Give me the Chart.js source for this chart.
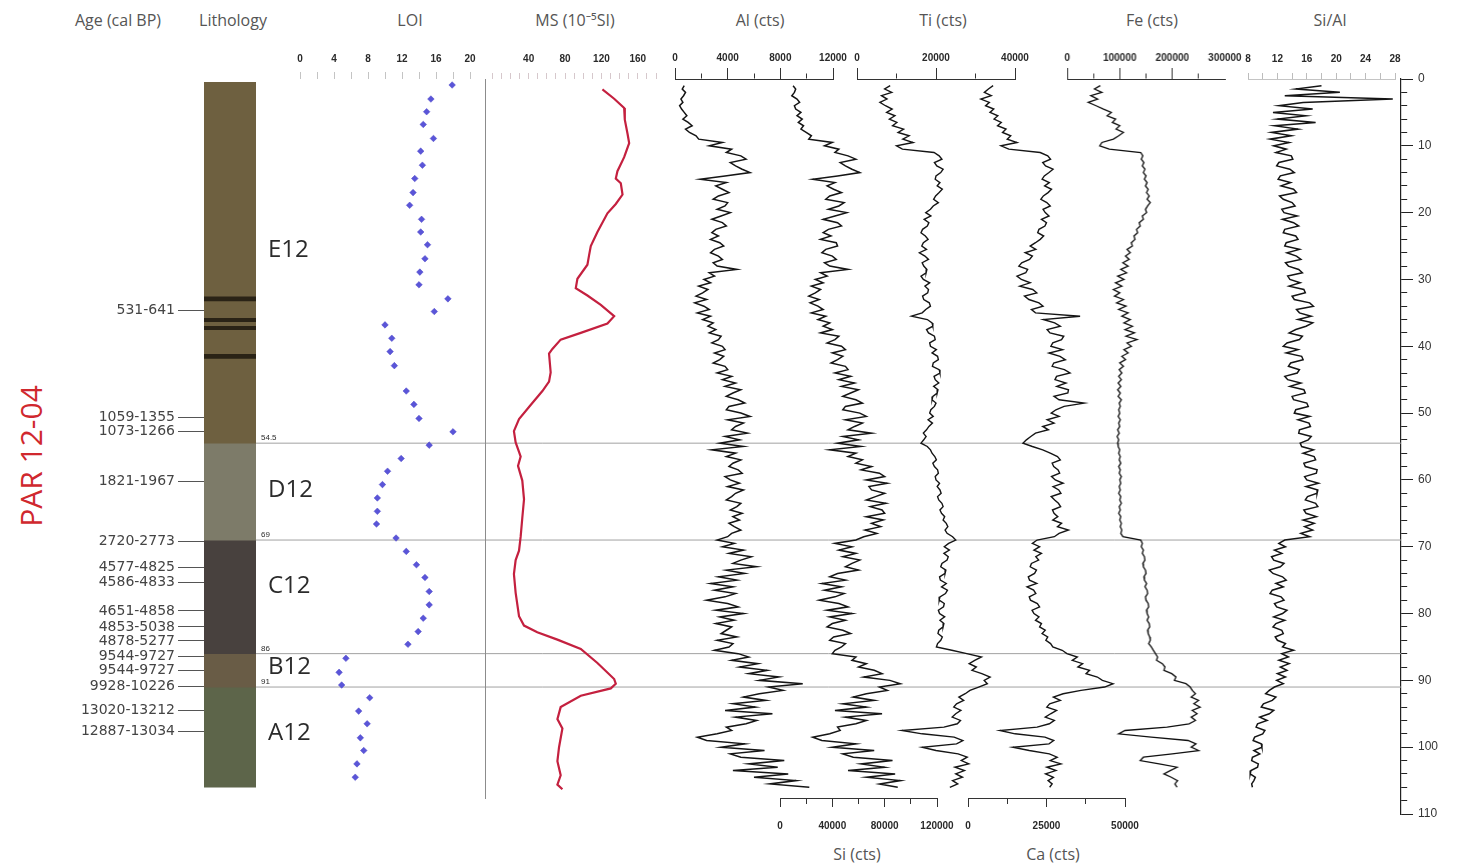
<!DOCTYPE html>
<html><head><meta charset="utf-8">
<script src="https://cdn.jsdelivr.net/npm/chart.js@4.4.1/dist/chart.umd.min.js"></script>
<style>
html,body{margin:0;padding:0;background:#fff;}
#wrap{position:relative;width:1461px;height:866px;overflow:hidden;background:#fff;}
canvas{position:absolute;}
.hdr{position:absolute;font-family:'Open Sans','Noto Sans',sans-serif;font-size:16px;color:#555;transform:translateX(-50%);white-space:nowrap;line-height:22px;}
#title{position:absolute;left:30px;top:456px;transform:translate(-50%,-50%) rotate(-90deg);font-family:'Open Sans','Noto Sans',sans-serif;font-size:30px;color:#d0282e;white-space:nowrap;}
</style></head><body>
<div id="wrap">
  <div class="hdr" style="left:118px;top:9px">Age (cal BP)</div>
  <div class="hdr" style="left:233px;top:9px">Lithology</div>
  <div class="hdr" style="left:410px;top:9px">LOI</div>
  <div class="hdr" style="left:575px;top:9px">MS (10⁻⁵SI)</div>
  <div class="hdr" style="left:760px;top:9px">Al (cts)</div>
  <div class="hdr" style="left:943px;top:9px">Ti (cts)</div>
  <div class="hdr" style="left:1152px;top:9px">Fe (cts)</div>
  <div class="hdr" style="left:1330px;top:9px">Si/Al</div>
  <div class="hdr" style="left:857px;top:843px">Si (cts)</div>
  <div class="hdr" style="left:1053px;top:843px">Ca (cts)</div>
  <div id="title">PAR 12-04</div>
</div>
<script>
// ---------------- DATA ----------------
// XRF scan sampling grid: 1.0 cm to 106.0 cm every 0.5 cm (211 samples)
const DEPTH_START = 1.0, DEPTH_STEP = 0.5, N_XRF = 211;
const xrfDepth = Array.from({length: N_XRF}, (_, i) => DEPTH_START + i * DEPTH_STEP);

const alCts = [
700,550,800,650,450,600,350,500,700,900,
600,1000,1300,800,1100,1600,1800,3600,2600,4300,
3900,5000,5400,4200,4600,5100,5700,3800,1900,3900,
3100,3600,4100,3300,2900,4000,3800,3200,4200,3500,
2800,3600,3900,3100,2800,3300,2700,3400,3700,3000,
2700,3300,3600,2900,3200,4700,2600,3000,2200,2700,
1800,2500,2100,1600,2400,1500,2200,2600,1700,2700,
2100,2900,2500,3100,2600,3500,3300,2800,3600,3800,
3000,3700,3400,2900,3800,4000,3200,4300,3600,4600,
3800,5000,4400,3900,4800,5300,4100,3900,5000,5700,
4000,5200,4600,4300,5500,3800,4900,3400,5200,2800,
4600,3900,5000,4400,4100,4800,5100,3800,4200,4900,
4000,5200,4600,4300,3900,5000,4700,4200,5100,4400,
4900,4100,4500,5000,4300,4000,3200,4500,3600,5200,
4100,5800,5000,4400,6200,3900,5300,3300,4700,2700,
4400,3000,4600,3800,2400,4000,4800,3100,5200,3400,
4500,3100,4300,3900,3500,4700,3200,4400,4100,3000,
4800,5600,4300,6300,4900,7000,5600,7900,6400,9700,
7100,8200,6400,5200,6900,4400,6100,3800,7400,4600,
6200,5400,3900,4300,3200,1700,2400,5300,3500,6800,
4200,5000,8300,5600,7800,4400,8600,6000,9200,7200,
10200];

const siCts = [
10000,12000,11000,9000,13000,15000,11000,12000,16000,13000,
17000,14000,18000,16000,20000,24000,22000,40000,34000,45000,
42000,52000,58000,46000,50000,55000,61000,44000,25000,42000,
36000,41000,47000,38000,35000,49000,45000,37000,51000,42000,
33000,44000,47000,37000,33000,39000,31000,43000,44000,35000,
32000,40000,43000,34000,38000,52000,31000,36000,27000,33000,
24000,31000,27000,22000,30000,23000,29000,33000,24000,35000,
29000,38000,33000,40000,31000,45000,42000,36000,47000,50000,
40000,48000,44000,39000,50000,52000,42000,54000,45000,57000,
47000,60000,54000,48000,58000,63000,50000,48000,61000,66000,
50000,63000,57000,52000,70000,48000,60000,44000,62000,38000,
58000,52000,63000,58000,70000,62000,76000,80000,66000,82000,
68000,70000,80000,73000,66000,81000,69000,78000,80000,66000,
79000,70000,77000,65000,74000,64000,58000,42000,55000,45000,
58000,48000,61000,55000,50000,60000,44000,38000,50000,32000,
47000,34000,49000,42000,30000,45000,52000,36000,55000,38000,
50000,40000,36000,48000,54000,41000,38000,50000,47000,42000,
40000,58000,55000,66000,60000,72000,78000,64000,84000,92000,
76000,82000,66000,56000,72000,48000,66000,42000,78000,50000,
66000,58000,44000,46000,38000,25000,32000,58000,40000,72000,
48000,56000,86000,62000,80000,52000,88000,66000,92000,76000,
90000];

const tiCts = [
8400,7000,8800,6200,7600,5800,7200,8900,7500,9600,
8200,10100,9000,11800,10400,13200,11600,14200,10000,11500,
19500,20800,21500,19600,20200,21800,21200,20000,19800,21000,
20300,21600,20800,19900,19400,20600,19300,18600,17400,18700,
17000,18200,17800,16600,16200,17300,18000,16800,16400,17600,
15800,17200,18100,16500,16900,17700,17500,16200,16800,18400,
17200,18100,17900,16600,16900,18300,18600,17400,16500,13800,
17800,19000,19200,17600,18100,19600,19800,18400,18600,20100,
19000,20400,20600,19300,19100,20800,21000,19500,19800,20700,
19400,20500,20300,19200,19000,20000,19600,18700,18400,19300,
18000,19100,18200,17600,16800,17500,16900,16200,17800,18600,
19000,19700,20100,19200,19600,20400,20600,19800,20000,20900,
20300,21000,21300,20400,20700,21500,21800,21000,21400,22200,
21800,22600,23000,22300,22800,24200,25000,23200,22100,23400,
22000,23100,22800,21500,21200,22500,22300,20900,21100,22600,
21400,22900,22400,21000,20800,22100,21900,20600,20900,22200,
21000,22000,21800,20700,20500,21600,21200,20400,20100,24000,
27800,31500,29800,28400,30200,29100,31600,33700,32200,33000,
30800,28600,27400,25800,27000,25200,24500,26300,25000,24100,
26200,25400,22000,11400,16500,24600,26800,25200,16500,20000,
25600,27900,26400,28300,24800,27200,25000,26700,24200,25500,
23500];

const caCts = [
8000,6500,5200,7400,4100,6800,5600,8200,7000,9500,
8300,10600,9400,12100,11000,13600,12500,15600,10500,13000,
23000,25400,26300,23800,24700,27100,25800,24300,23600,25900,
24400,26600,25500,24000,23200,25100,26200,23900,24600,25800,
23400,25000,24500,22600,22200,24100,23000,21500,19800,21600,
18200,20500,19600,17100,16200,19000,18400,15600,17000,19800,
16500,20600,21900,18000,19400,22600,23900,20200,21500,35700,
24000,27600,29400,25200,26100,30500,29800,27000,26400,30100,
25800,29300,31000,27300,26800,30700,32500,28200,27700,31200,
28300,32000,31800,27400,29000,37000,30600,28000,26500,29000,
25200,27400,23800,25600,21500,20000,18600,17500,20500,23800,
26200,28500,29400,26800,27300,28700,29200,26600,27800,30300,
27100,28900,29600,26500,27600,28800,29500,26900,27400,28600,
27000,29800,28500,32000,29000,27500,22000,20500,22800,21000,
23400,21600,22500,20200,19800,21800,21200,19200,19600,21900,
18800,20900,21600,19500,19900,22100,22800,20400,21000,22600,
21500,23400,22800,24600,23600,25400,24800,26300,27000,30000,
31500,34800,33200,36500,35000,38700,37600,41200,42800,46200,
43500,36000,30300,27200,29400,26000,25100,28200,26300,24600,
27500,25900,22000,10200,15000,24500,27300,25800,14300,19500,
25900,28400,26200,29600,25100,28000,24700,27200,25500,26800,
26000];

const feCts = [
63000,52000,66000,45000,58000,40000,55000,69000,84000,76000,
92000,86000,100000,93000,107000,98000,88000,66000,62000,80000,
140000,144000,141000,146000,143000,148000,145000,150000,147000,152000,
149000,154000,151000,156000,152000,158000,153000,149000,151000,143000,
145000,137000,139000,132000,134000,127000,129000,122000,124000,114000,
120000,111000,118000,106000,116000,102000,113000,96000,108000,92000,
104000,88000,100000,90000,107000,94000,112000,98000,116000,104000,
120000,108000,124000,110000,128000,112000,133000,114000,122000,108000,
116000,104000,111000,100000,107000,99000,104000,98000,103000,97000,
102000,96000,101000,97000,103000,99000,101000,98000,100000,97000,
101000,98000,100000,96000,99000,95000,98000,96000,97000,100000,
98000,101000,99000,102000,98000,101000,99000,103000,100000,102000,
99000,101000,98000,102000,100000,103000,99000,101000,98000,102000,
100000,103000,101000,104000,102000,106000,140000,143000,141000,145000,
143000,147000,148000,144000,145000,149000,150000,146000,147000,151000,
148000,152000,153000,149000,150000,154000,155000,151000,152000,155000,
152000,156000,157000,153000,154000,157000,158000,155000,160000,164000,
168000,172000,170000,181000,186000,184000,199000,207000,204000,226000,
234000,238000,244000,236000,250000,241000,253000,238000,247000,236000,
244000,232000,190000,110000,98000,160000,230000,245000,236000,250000,
200000,145000,139000,175000,209000,196000,184000,198000,210000,205000,
209000];

const siAlRatio = [
18.0,14.5,20.5,13.0,27.7,15.5,12.2,16.8,11.4,15.9,
12.0,17.2,11.6,14.8,11.2,13.9,11.0,13.6,11.5,13.2,
11.8,13.9,14.1,12.2,11.9,13.7,14.3,12.4,12.1,13.8,
12.5,14.2,14.6,12.3,12.8,14.0,14.4,12.6,12.9,14.7,
12.7,14.2,14.9,13.0,12.8,14.5,14.8,13.2,13.0,15.0,
13.3,14.6,15.2,13.1,13.5,14.9,15.4,13.4,13.7,15.1,
13.6,15.6,15.8,14.0,14.3,16.4,16.9,14.6,15.0,16.6,
14.8,16.8,15.9,14.5,13.6,15.4,15.0,13.3,12.8,14.8,
13.2,15.3,15.5,13.8,13.5,15.0,14.7,13.0,13.4,15.2,
13.7,15.6,15.8,14.0,14.2,16.0,16.2,14.5,14.3,16.4,
14.8,16.3,16.5,15.0,14.9,16.6,16.2,15.1,15.3,16.9,
15.5,17.0,17.2,15.6,15.8,17.4,17.3,15.7,16.0,17.6,
15.9,17.5,17.4,16.1,15.8,17.2,17.5,15.6,15.9,17.3,
15.5,17.0,15.7,16.8,15.2,16.4,13.0,12.2,13.1,11.6,
12.6,11.2,11.5,12.9,12.4,10.9,11.4,12.7,13.2,11.8,
12.8,11.3,11.0,12.5,12.9,11.6,11.9,13.3,12.7,11.5,
13.0,11.8,11.4,12.6,12.8,11.7,12.0,13.1,12.7,14.2,
12.6,13.5,12.2,13.6,12.4,13.3,12.0,13.1,11.9,12.8,
11.6,10.9,10.4,11.8,11.3,10.1,9.8,11.5,10.9,9.6,
10.6,9.3,9.1,10.3,10.0,8.9,8.7,9.8,9.9,8.8,
9.6,8.6,8.5,9.4,9.3,8.4,8.3,9.0,8.8,8.5,
8.6];

const loiDepth = [0.9,3.0,4.9,6.8,8.9,10.8,12.9,14.9,17.0,18.9,21.0,22.9,24.8,26.9,28.9,30.8,32.9,34.8,36.8,38.8,40.8,42.9,46.7,48.7,50.8,52.8,54.8,56.8,58.7,60.7,62.7,64.7,66.6,68.7,70.7,72.7,74.6,76.7,78.7,80.7,82.7,84.6,86.7,88.8,90.7,92.6,94.6,96.5,98.6,100.5,102.5,104.5];
const loiPct = [17.9,15.4,14.9,14.5,15.7,14.2,14.4,13.5,13.3,12.9,14.3,14.2,15.0,14.7,14.1,14.0,17.4,15.8,10.0,10.8,10.6,11.1,12.5,13.4,14.0,18.0,15.2,11.9,10.3,9.7,9.1,9.1,9.0,11.3,12.5,13.7,14.7,15.2,15.2,14.5,13.9,12.7,5.4,4.6,4.9,8.2,6.9,7.9,7.1,7.5,6.7,6.5];

const msDepth = [1.55,2.95,4.35,6.1,8.2,9.6,11.7,13.8,14.9,15.6,17.3,18.7,20.1,22.9,25.0,26.4,27.8,29.9,31.3,32.4,33.8,35.5,36.6,38.0,39.0,40.4,41.1,43.9,45.3,46.7,48.8,50.9,52.7,54.4,55.8,56.5,57.9,60.1,62.9,65.7,68.5,70.6,72.0,74.1,76.9,80.4,81.8,82.8,83.9,85.3,87.4,89.8,90.5,91.2,92.3,94.0,95.8,97.2,100.0,102.1,104.2,105.6,106.3];
const msSI = [121.1,134.0,145.0,145.7,148.7,150.5,145.0,137.6,135.8,141.3,143.2,135.8,126.6,115.6,108.3,106.4,104.6,93.6,91.8,104.6,119.3,134.0,126.6,97.3,75.2,66.1,62.4,64.2,62.4,55.1,42.2,29.4,23.8,25.7,29.4,31.2,28.3,33.0,34.9,33.0,31.2,29.4,25.7,23.8,25.7,29.4,34.9,49.5,71.6,97.3,115.6,134.0,135.8,130.3,97.3,75.2,71.6,77.1,73.4,71.6,75.2,71.6,77.1];

const unitNames = ['E12','D12','C12','B12','A12'];
const unitTop = [0.5,54.5,69,86,91];
const unitBottom = [54.5,69,86,91,106];
const unitLabelDepth = [25.6,61.5,75.9,88.0,97.9];
const darkBands = [[32.6,33.2],[35.8,36.3],[37.0,37.5],[41.2,41.8]];
const boundaryDepths = [54.5,69,86,91];
const boundaryLabels = ['54.5','69','86','91'];

const ageLabels = ['531-641','1059-1355','1073-1266','1821-1967','2720-2773','4577-4825','4586-4833','4651-4858','4853-5038','4878-5277','9544-9727','9544-9727','9928-10226','13020-13212','12887-13034'];
const ageDepths = [34.7,50.7,52.8,60.2,69.2,73.1,75.3,79.6,82.0,84.1,86.4,88.5,90.9,94.5,97.6];

const depthTicks = [0,2,4,6,8,10,12,14,16,18,20,22,24,26,28,30,32,34,36,38,40,42,44,46,48,50,52,54,56,58,60,62,64,66,68,70,72,74,76,78,80,82,84,86,88,90,92,94,96,98,100,102,104,106,108,110];
const loiTicks = [0,2,4,6,8,10,12,14,16,18,20], loiLabels = [0,4,8,12,16,20];
const msTicks = [0,10,20,30,40,50,60,70,80,90,100,110,120,130,140,150,160,170,180], msLabels = [40,80,120,160];
const alTicks = [0,2000,4000,6000,8000,10000,12000], alLabels = [0,4000,8000,12000];
const siTicks = [0,20000,40000,60000,80000,100000,120000], siLabels = [0,40000,80000,120000];
const tiTicks = [0,10000,20000,30000,40000], tiLabels = [0,20000,40000];
const caTicks = [0,12500,25000,37500,50000], caLabels = [0,25000,50000];
const feTicks = [0,50000,100000,150000,200000,250000,300000], feLabels = [0,100000,200000,300000];
const siAlTicks = [8,10,12,14,16,18,20,22,24,26,28], siAlLabels = [8,12,16,20,24,28];

// ---------------- LAYOUT ----------------
const W = 1461, H = 866, Y_TOP = 79, Y_BOT = 814, D_MAX = 110;
const wrap = document.getElementById('wrap');
Chart.defaults.font.family = "'Liberation Sans', Arial, sans-serif";
Chart.defaults.color = '#333';

function addCanvas(left, top, w, h) {
  const c = document.createElement('canvas');
  c.width = w; c.height = h;
  c.style.left = left + 'px'; c.style.top = top + 'px';
  c.style.width = w + 'px'; c.style.height = h + 'px';
  wrap.appendChild(c);
  return c;
}
function baseOpts() {
  return {responsive: false, animation: false, events: [], devicePixelRatio: 1,
    plugins: {legend: {display: false}, tooltip: {enabled: false}}};
}
function depthMaxFor(bottomPx) { return D_MAX * (bottomPx - Y_TOP) / (Y_BOT - Y_TOP); }
function pts(xs, ds) { return ds.map((d, i) => ({x: xs[i], y: d})); }

function panel(p) {
  const PADX = 45, AH = 32;
  const bottomPx = p.bottomPx || Y_BOT;
  const isTop = p.pos === 'top';
  const c = addCanvas(p.L - PADX, 0, p.R - p.L + 2 * PADX, H);
  const tl = p.tickLen, ml = p.minorLen || p.tickLen;
  const isMinor = v => !p.labels.includes(v);
  const useDash = ml < tl;
  return new Chart(c, {
    type: 'scatter',
    data: {datasets: p.datasets},
    options: Object.assign(baseOpts(), {
      layout: {padding: {left: PADX, right: PADX,
        top: isTop ? Y_TOP - AH : Y_TOP,
        bottom: isTop ? H - bottomPx : H - bottomPx - AH}},
      scales: {
        x: {
          type: 'linear', position: p.pos, min: p.min, max: p.max,
          afterBuildTicks: s => { s.ticks = p.ticks.map(v => ({value: v})); },
          afterFit: s => { s.height = AH; },
          ticks: {autoSkip: false, maxRotation: 0, minRotation: 0, padding: p.labelPad,
            color: '#2a2a2a', font: {size: 10, weight: 'bold'},
            callback: v => p.labels.includes(v) ? String(v) : ''},
          grid: {drawOnChartArea: false, drawTicks: true, tickLength: tl, tickWidth: 1,
            tickColor: ctx => (ctx.tick && p.hideTick && p.hideTick.includes(ctx.tick.value)) ? 'rgba(0,0,0,0)' : p.tickColor,
            tickBorderDash: ctx => (useDash && ctx.tick && isMinor(ctx.tick.value)) ? [ml, 200] : [],
            tickBorderDashOffset: ctx => (useDash && isTop && ctx.tick && isMinor(ctx.tick.value)) ? (2 * ml + 200 - (tl - 0.5)) : 0},
          border: {display: p.border !== false, color: p.borderColor || '#333', width: 1}
        },
        y: {
          type: 'linear', min: 0, max: depthMaxFor(bottomPx), reverse: true,
          display: !!p.leftBorder, position: 'left',
          afterFit: s => { s.width = 0; },
          ticks: {display: false}, grid: {display: false},
          border: {display: true, color: '#8c8c8c', width: 1}
        }
      }
    })
  });
}

function curve(xs, color, width) {
  return {data: pts(xs, xrfDepth), showLine: true, borderColor: color || '#1c1c1c',
    borderWidth: width || 1.2, pointRadius: 0, fill: false, tension: 0};
}

// ---- depth axis + boundary lines ----
new Chart(addCanvas(250, 0, W - 250, H), {
  type: 'scatter',
  data: {datasets: boundaryDepths.map(d => ({data: [{x: 0, y: d}, {x: 1, y: d}], showLine: true,
    borderColor: '#a2a2a2', borderWidth: 1, pointRadius: 0}))},
  options: Object.assign(baseOpts(), {
    layout: {padding: {left: 6, right: 0, top: Y_TOP, bottom: H - Y_BOT}},
    scales: {
      x: {type: 'linear', min: 0, max: 1, display: false},
      y: {type: 'linear', position: 'right', min: 0, max: D_MAX, reverse: true,
        afterBuildTicks: s => { s.ticks = depthTicks.map(v => ({value: v})); },
        afterFit: s => { s.width = 60; },
        ticks: {autoSkip: false, padding: 5, color: '#333', font: {size: 12},
          callback: v => (v % 10 === 0) ? String(v) : ''},
        grid: {drawOnChartArea: false, tickLength: 12, tickColor: '#222', tickWidth: 1,
          tickBorderDash: ctx => (ctx.tick && ctx.tick.value % 10 !== 0) ? [6, 200] : []},
        border: {display: true, color: '#222', width: 1.2}}
    }
  })
});

// ---- lithology column + age labels ----
const lithoColors = ['#6e6040', '#7d7b69', '#48413e', '#695c46', '#5d654a'];
const lithoText = {
  id: 'lithoText',
  afterDraw(chart) {
    const {ctx, chartArea, scales: {y}} = chart;
    ctx.save();
    ctx.fillStyle = '#2b2b2b';
    ctx.font = "24px 'Open Sans', 'Noto Sans', sans-serif";
    ctx.textBaseline = 'middle'; ctx.textAlign = 'left';
    unitNames.forEach((n, i) => ctx.fillText(n, chartArea.right + 12, y.getPixelForValue(unitLabelDepth[i])));
    ctx.font = "8px 'Liberation Sans', sans-serif";
    ctx.textBaseline = 'bottom';
    boundaryDepths.forEach((d, i) => ctx.fillText(boundaryLabels[i], chartArea.right + 5, y.getPixelForValue(d) - 1));
    ctx.restore();
  }
};
const barDs = (range, color) => ({data: [range], backgroundColor: color, grouped: false,
  barPercentage: 1, categoryPercentage: 1, borderWidth: 0});
new Chart(addCanvas(40, 0, 300, H), {
  type: 'bar',
  data: {labels: ['Lithology'], datasets: [
    ...darkBands.map(b => barDs(b, '#2a2316')),
    ...unitNames.map((n, i) => barDs([unitTop[i], unitBottom[i]], lithoColors[i]))
  ]},
  options: Object.assign(baseOpts(), {
    layout: {padding: {left: 0, right: 84, top: Y_TOP, bottom: H - Y_BOT}},
    scales: {
      x: {type: 'category', display: false},
      y: {type: 'linear', position: 'left', min: 0, max: D_MAX, reverse: true,
        afterBuildTicks: s => { s.ticks = ageDepths.map(v => ({value: v})); },
        afterFit: s => { s.width = 164; },
        ticks: {autoSkip: false, padding: 3, color: '#444', font: {family: "'DejaVu Sans', sans-serif", size: 14},
          callback: (v, i) => ageLabels[i]},
        grid: {drawOnChartArea: false, tickLength: 26, tickColor: '#555', tickWidth: 1},
        border: {display: false}}
    }
  }),
  plugins: [lithoText]
});

// ---- LOI ----
panel({L: 300, R: 470, min: 0, max: 20, ticks: loiTicks, labels: loiLabels, pos: 'top',
  tickLen: 7, labelPad: 7, tickColor: '#c4c4c4', border: false,
  datasets: [{data: pts(loiPct, loiDepth), showLine: false, pointStyle: 'rectRot', pointRadius: 3.3,
    backgroundColor: '#5a55d8', borderColor: '#4c47c9', borderWidth: 0.5}]});

// ---- MS ----
panel({L: 485, R: 656, min: -8, max: 180, ticks: msTicks, labels: msLabels, pos: 'top',
  tickLen: 6, labelPad: 8, tickColor: '#d6c8cc', border: false, leftBorder: true, bottomPx: 798,
  datasets: [{data: pts(msSI, msDepth), showLine: true, borderColor: '#c4203f', borderWidth: 2.2,
    pointRadius: 0, tension: 0}]});

// ---- Al (top) & Si (bottom) ----
panel({L: 675, R: 833, min: 0, max: 12000, ticks: alTicks, labels: alLabels, pos: 'top',
  tickLen: 11, minorLen: 5, labelPad: 4, tickColor: '#333', borderColor: '#333',
  datasets: [curve(alCts, '#151515', 1.5)]});
panel({L: 780, R: 937, min: 0, max: 120000, ticks: siTicks, labels: siLabels, pos: 'bottom',
  tickLen: 9, minorLen: 5, labelPad: 13, tickColor: '#333', borderColor: '#333', bottomPx: 798,
  datasets: [curve(siCts, '#151515', 1.5)]});

// ---- Ti (top) & Ca (bottom) ----
panel({L: 857, R: 1015, min: 0, max: 40000, ticks: tiTicks, labels: tiLabels, pos: 'top',
  tickLen: 11, minorLen: 5, labelPad: 4, tickColor: '#333', borderColor: '#333',
  datasets: [curve(tiCts, '#151515', 1.4)]});
panel({L: 968, R: 1125, min: 0, max: 50000, ticks: caTicks, labels: caLabels, pos: 'bottom',
  tickLen: 9, minorLen: 5, labelPad: 13, tickColor: '#333', borderColor: '#333', bottomPx: 798,
  datasets: [curve(caCts, '#151515', 1.4)]});

// ---- Fe ----
panel({L: 1067, R: 1224.5, min: 0, max: 300000, ticks: feTicks, labels: feLabels, pos: 'top',
  tickLen: 11, minorLen: 5, labelPad: 4, tickColor: '#333', borderColor: '#333', hideTick: [300000],
  datasets: [curve(feCts, '#111', 1.3)]});

// ---- Si/Al ----
panel({L: 1248, R: 1395, min: 8, max: 28, ticks: siAlTicks, labels: siAlLabels, pos: 'top',
  tickLen: 6, labelPad: 8, tickColor: '#bcbcbc', borderColor: '#c4c4c4',
  datasets: [curve(siAlRatio, '#151515', 1.5)]});
</script>
</body></html>
